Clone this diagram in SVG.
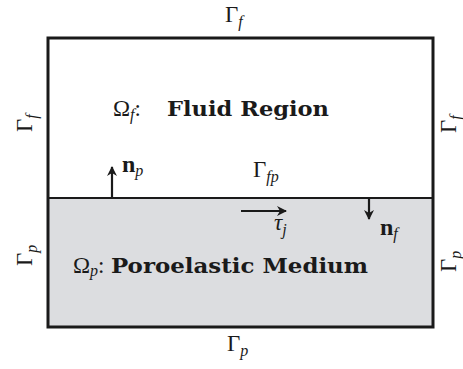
<svg xmlns="http://www.w3.org/2000/svg" width="463" height="369" viewBox="0 0 463 369">
<style>
.m{font-family:"Liberation Serif","DejaVu Serif",serif;font-size:23px;fill:#1a1a1a}
.s{font-style:italic;font-size:16px}
.b{font-family:"DejaVu Serif","Liberation Serif",serif;font-weight:bold;font-size:21px;fill:#1a1a1a}
.nb{font-family:"Liberation Serif","DejaVu Serif",serif;font-weight:bold;font-size:24px;fill:#1a1a1a}
.edge{stroke:#1a1a1a;stroke-width:3;fill:none}
.arr{stroke:#1a1a1a;stroke-width:2.2;fill:none;marker-end:url(#ah)}
</style>
<defs>
<marker id="ah" markerUnits="userSpaceOnUse" markerWidth="14" markerHeight="14" viewBox="-11 -7 14 14" refX="0" refY="0" orient="auto">
<path d="M1,0 L-9,-5 L-6,0 L-9,5 Z" fill="#1a1a1a"/>
</marker>
</defs>
<rect width="463" height="369" fill="#ffffff"/>
<g id="fluid-region">
<rect x="48" y="38" width="385" height="160" fill="#ffffff"/>
<text class="m" x="113" y="116">Ω<tspan class="s" dy="4">f</tspan><tspan dy="-4">:</tspan></text>
<text class="b" x="167" y="116" textLength="162" lengthAdjust="spacingAndGlyphs">Fluid Region</text>
</g>
<g id="poroelastic-medium">
<rect x="48" y="198" width="385" height="129" fill="#dcdde0"/>
<text class="m" x="73" y="273">Ω<tspan class="s" dy="3">p</tspan><tspan dy="-3">:</tspan></text>
<text class="b" x="111" y="273" textLength="257" lengthAdjust="spacingAndGlyphs">Poroelastic Medium</text>
</g>
<g id="boundaries">
<path class="edge" d="M48,38 H433 V327 H48 Z"/>
<line x1="48" y1="198" x2="433" y2="198" stroke="#1a1a1a" stroke-width="2"/>
</g>
<g id="boundary-labels">
<text class="m" x="225" y="22">Γ<tspan class="s" dy="5">f</tspan></text>
<text class="m" x="227" y="351">Γ<tspan class="s" dy="5">p</tspan></text>
<text class="m" transform="translate(32,132) rotate(-90)">Γ<tspan class="s" dy="5">f</tspan></text>
<text class="m" transform="translate(32,266) rotate(-90)">Γ<tspan class="s" dy="5">p</tspan></text>
<text class="m" transform="translate(456,133) rotate(-90)">Γ<tspan class="s" dy="5">f</tspan></text>
<text class="m" transform="translate(456,272) rotate(-90)">Γ<tspan class="s" dy="5">p</tspan></text>
<text class="m" x="253" y="177">Γ<tspan class="s" dy="5">fp</tspan></text>
</g>
<g id="connectors">
<line class="arr" x1="112" y1="198" x2="112" y2="167"/>
<line class="arr" x1="241" y1="211" x2="286" y2="211"/>
<line class="arr" x1="369" y1="198" x2="369" y2="219"/>
</g>
<g id="vector-labels">
<text class="nb" x="122" y="172">n<tspan class="s" font-weight="normal" dy="4">p</tspan></text>
<text class="m" x="274" y="230" font-style="italic">τ<tspan class="s" dy="5">j</tspan></text>
<text class="nb" x="380" y="235">n<tspan class="s" font-weight="normal" dy="4">f</tspan></text>
</g>
</svg>
